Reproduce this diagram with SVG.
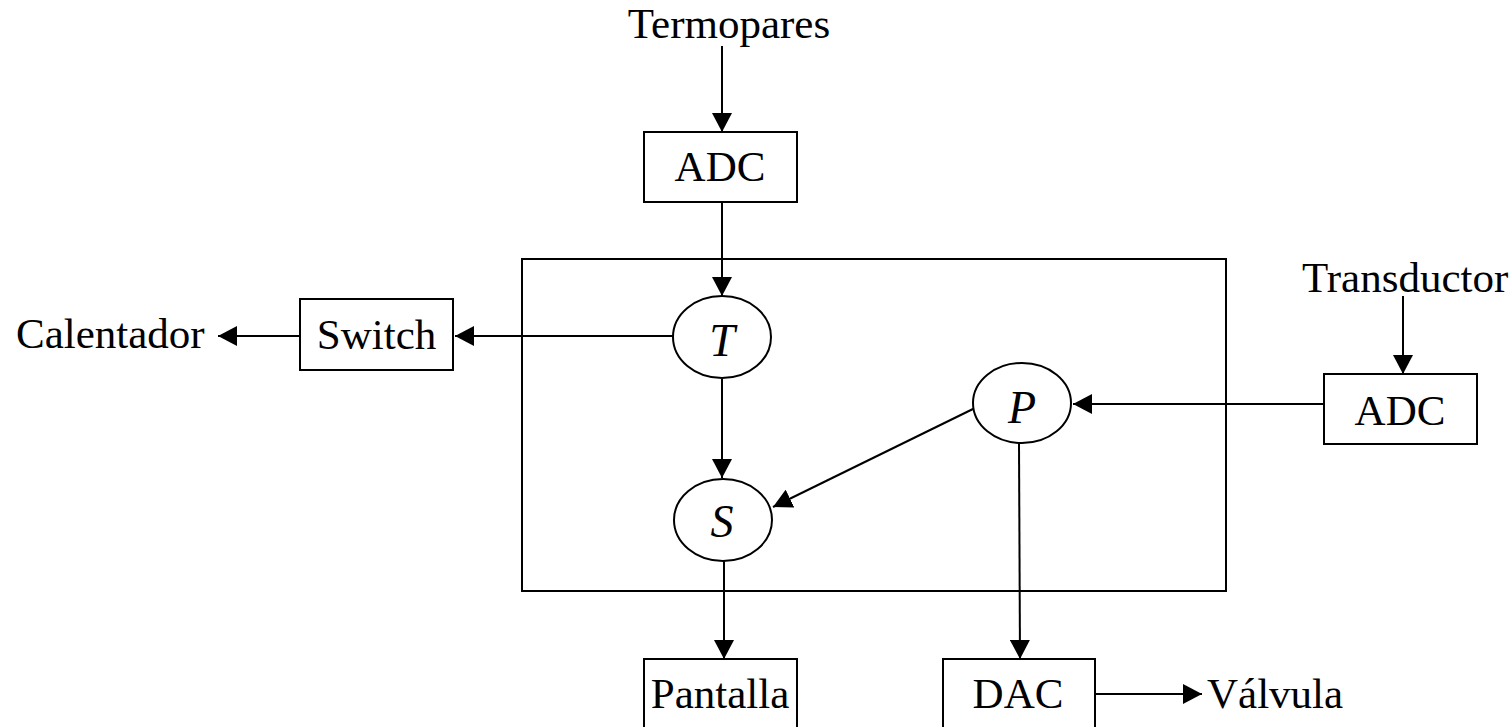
<svg xmlns="http://www.w3.org/2000/svg" width="1512" height="727" viewBox="0 0 1512 727">
<style>
.box{fill:#fff;stroke:#000;stroke-width:2}
.frame{fill:none;stroke:#000;stroke-width:2}
.ell{fill:#fff;stroke:#000;stroke-width:2}
.arr{stroke:#000;stroke-width:2;fill:none;marker-end:url(#ah)}
text{font-family:"Liberation Serif","Times New Roman",serif;font-size:43px;fill:#000}
.c{text-anchor:middle}
.i{font-style:italic;font-size:46px}
</style>
<defs>
<marker id="ah" markerUnits="userSpaceOnUse" markerWidth="19" markerHeight="20" refX="19" refY="10" orient="auto">
<path d="M0,0 L19,10 L0,20 z" fill="#000"/>
</marker>
</defs>
<g id="system"><rect class="frame" x="522" y="259" width="704" height="332"/></g>
<g id="connectors">
<line class="arr" x1="722" y1="46" x2="722" y2="132"/>
<line class="arr" x1="722" y1="202" x2="722" y2="296"/>
<line class="arr" x1="673" y1="336" x2="455" y2="336"/>
<line class="arr" x1="300" y1="336" x2="218" y2="336"/>
<line class="arr" x1="722" y1="379" x2="722" y2="478"/>
<line class="arr" x1="1403" y1="296" x2="1403" y2="374"/>
<line class="arr" x1="1324" y1="404" x2="1073" y2="404"/>
<line class="arr" x1="975" y1="408" x2="773" y2="507"/>
<line class="arr" x1="1019" y1="443" x2="1020" y2="659"/>
<line class="arr" x1="724" y1="561" x2="724" y2="659"/>
<line class="arr" x1="1095" y1="694" x2="1202" y2="694"/>
</g>
<g id="termopares"><text class="c" x="729" y="38">Termopares</text></g>
<g id="adc1"><rect class="box" x="644" y="132" width="153" height="70"/><text class="c" x="720" y="181">ADC</text></g>
<g id="calentador"><text x="16" y="348">Calentador</text></g>
<g id="switch"><rect class="box" x="300" y="299" width="153" height="71"/><text class="c" x="376.5" y="349">Switch</text></g>
<g id="T"><ellipse class="ell" cx="722" cy="337" rx="49" ry="41"/><text class="c i" x="722" y="356">T</text></g>
<g id="S"><ellipse class="ell" cx="723" cy="520" rx="49" ry="41"/><text class="c i" x="722" y="537">S</text></g>
<g id="P"><ellipse class="ell" cx="1022" cy="403" rx="49" ry="40"/><text class="c i" x="1022" y="423">P</text></g>
<g id="transductor"><text x="1302" y="292">Transductor</text></g>
<g id="adc2"><rect class="box" x="1324" y="374" width="153" height="70"/><text class="c" x="1400" y="425">ADC</text></g>
<g id="pantalla"><rect class="box" x="644" y="659" width="153" height="90"/><text class="c" x="720" y="708">Pantalla</text></g>
<g id="dac"><rect class="box" x="943" y="659" width="152" height="90"/><text class="c" x="1018" y="708">DAC</text></g>
<g id="valvula"><text x="1207" y="708">Válvula</text></g>
</svg>
